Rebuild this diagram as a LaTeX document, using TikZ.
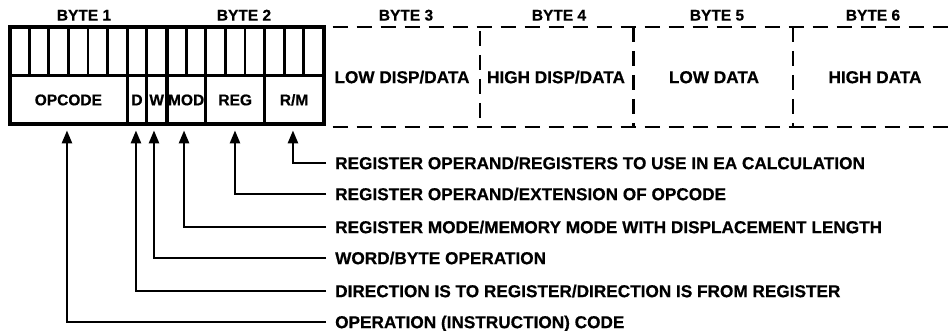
\documentclass[tikz,border=0pt]{standalone}
\usepackage{fontspec}
\setmainfont{Liberation Sans}[BoldFeatures={FakeBold=0.6}]
\usetikzlibrary{arrows.meta}
\begin{document}
\begin{tikzpicture}[x=1pt,y=1pt,
  bigtxt/.style={inner sep=0pt,font=\fontsize{17.2}{17.2}\selectfont\bfseries,text height=12.3pt,text depth=0pt},
  smalltxt/.style={inner sep=0pt,font=\fontsize{15.5}{15.5}\selectfont\bfseries,text height=11.1pt,text depth=0pt},
  desc/.style={bigtxt,anchor=west},
  field/.style={draw,line width=2.8pt,minimum height=48.5pt,inner sep=0pt,smalltxt},
  bitline/.style={line width=2.8pt},
  frame/.style={line width=4pt},
  dashline/.style={line width=2.4pt,dash pattern=on 15pt off 9pt,dash phase=-9pt},
  conn/.style={line width=2.5pt,-{Triangle[length=13pt,width=10pt]},shorten <=9pt,shorten >=5pt}
]
\useasboundingbox (0,0) rectangle (948,330);
\fill[white] (0,0) rectangle (948,330);

% byte labels
\node[smalltxt] (b1) at (84,315) {BYTE 1};
\node[smalltxt] (b2) at (244,315) {BYTE 2};
\node[smalltxt] (b3) at (406,315) {BYTE 3};
\node[smalltxt] (b4) at (559,315) {BYTE 4};
\node[smalltxt] (b5) at (717,315) {BYTE 5};
\node[smalltxt] (b6) at (873,315) {BYTE 6};

% bit cells of the upper row
\foreach \i in {1,...,15} {
  \draw[bitline] (9.5+\i*19.625,254.5) -- (9.5+\i*19.625,303);
}

% fields of the lower row
\node[field,minimum width=117.75pt] (opcode) at (68.375,230.25) {OPCODE};
\node[field,minimum width=19.625pt] (d) at (137.06,230.25) {D};
\node[field,minimum width=19.625pt] (w) at (156.69,230.25) {W};
\node[field,minimum width=39.25pt] (mod) at (186.125,230.25) {MOD};
\node[field,minimum width=58.875pt] (reg) at (235.19,230.25) {REG};
\node[field,minimum width=58.875pt] (rm) at (294.06,230.25) {R/M};

% frame and byte boundary
\draw[frame] (9.5,206) rectangle (323.5,303);
\draw[frame] (166.5,206) -- (166.5,303);

% dashed bytes 3-6
\draw[dashline] (323.5,303) -- (948,303);
\draw[dashline] (323.5,203) -- (948,203);
\draw[dashline,dash phase=-2pt] (480,301) -- (480,205);
\draw[dashline,dash phase=0pt] (633.5,303) -- (633.5,203);
\draw[dashline,dash phase=0pt] (793,303) -- (793,203);

\node[bigtxt] (t3) at (402,253) {LOW DISP/DATA};
\node[bigtxt] (t4) at (556,253) {HIGH DISP/DATA};
\node[bigtxt] (t5) at (714,253) {LOW DATA};
\node[bigtxt] (t6) at (875,253) {HIGH DATA};

% descriptions
\node[desc] (l1) at (335,167) {REGISTER OPERAND/REGISTERS TO USE IN EA CALCULATION};
\node[desc] (l2) at (335,136) {REGISTER OPERAND/EXTENSION OF OPCODE};
\node[desc] (l3) at (335,103) {REGISTER MODE/MEMORY MODE WITH DISPLACEMENT LENGTH};
\node[desc] (l4) at (335,72) {WORD/BYTE OPERATION};
\node[desc] (l5) at (335,39) {DIRECTION IS TO REGISTER/DIRECTION IS FROM REGISTER};
\node[desc] (l6) at (335,8) {OPERATION (INSTRUCTION) CODE};

\draw[conn] (l1.west) -| ([xshift=-1.1pt]rm.south);
\draw[conn] (l2.west) -| ([xshift=-0.2pt]reg.south);
\draw[conn] (l3.west) -| ([xshift=-2.1pt]mod.south);
\draw[conn] (l4.west) -| ([xshift=-2.7pt]w.south);
\draw[conn] (l5.west) -| ([xshift=-1.1pt]d.south);
\draw[conn] (l6.west) -| ([xshift=-1.4pt]opcode.south);
\end{tikzpicture}
\end{document}
